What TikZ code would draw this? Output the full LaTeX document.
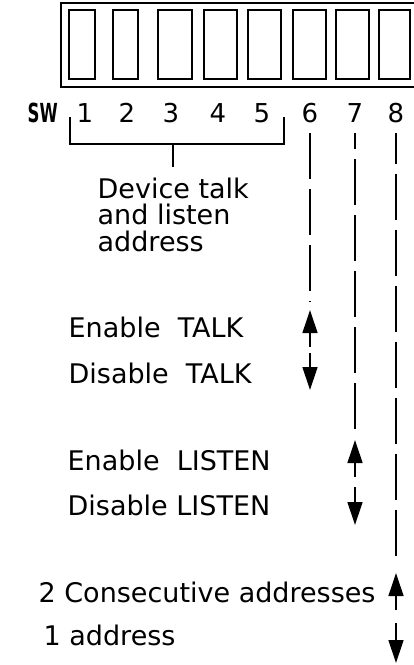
\documentclass[tikz,border=0pt]{standalone}
\usepackage{fontspec}
\setmainfont{DejaVu Sans}
\usetikzlibrary{arrows.meta}

\begin{document}
\begin{tikzpicture}[x=1pt,y=-1pt,line width=1.3pt,
  lbl/.style={anchor=base west,inner sep=0pt,font=\fontsize{27}{26.5}\selectfont},
  num/.style={anchor=base,inner sep=0pt,font=\fontsize{26}{26.5}\selectfont},
  sel/.style={-{Triangle[length=23pt,width=15pt]}},
  swline/.style={dash pattern=on 46pt off 10pt}]
\useasboundingbox (0,0) rectangle (414,665);
% switch block
\draw[line width=1.6pt] (414,3) -- (61,3) -- (61,87) -- (414,87);
\foreach \a/\b in {69/95,113/138,158/192,204/237,248/281,293/326,336/369,379/410}
  \draw (\a,10) rectangle (\b,79);
% switch numbers
\node[lbl,font=\bfseries\fontsize{25}{26}\selectfont] (sw) at (27,122) {\scalebox{0.66}[1.05]{SW}};
\foreach \x/\n in {85/1,127/2,171/3,218/4,262/5,310/6,355/7,396/8}
  \node[num] (n\n) at (\x,122) {\n};
% address bracket
\draw (70,117) -- (70,144) -- (284,144) -- (284,117);
\coordinate (br) at (173,144);
\node[lbl,anchor=north west,align=left] (dev) at (97,177) {Device talk\\and listen\\address};
\draw (br) -- ([yshift=10pt]dev.north -| br);
% labels
\node[lbl] (ent) at (68,337) {Enable \ TALK};
\node[lbl] (dit) at (68,383) {Disable \ TALK};
\node[lbl] (enl) at (67,470) {Enable \ LISTEN};
\node[lbl] (dil) at (67,515) {Disable LISTEN};
\node[lbl] (two) at (38,602) {2 Consecutive addresses};
\node[lbl] (one) at (43,645) {1 address};
% switch 6
\coordinate (u6) at (310,310);
\coordinate (d6) at (310,390);
\draw[swline] ([yshift=-11pt]n6.base) -- ([yshift=8pt]u6);
\draw[sel] (310,347) -- (u6);
\draw[sel] (310,353) -- (d6);
% switch 7
\coordinate (u7) at (355,440);
\coordinate (d7) at (355,525);
\draw[swline,dash phase=30pt] ([yshift=-11pt]n7.base) -- ([yshift=10pt]u7);
\draw[sel] (355,477) -- (u7);
\draw[sel] (355,487) -- (d7);
% switch 8
\coordinate (u8) at (396,573);
\coordinate (d8) at (396,663);
\draw[swline,dash phase=15pt] ([yshift=-11pt]n8.base) -- ([yshift=11pt]u8);
\draw[sel] (396,610) -- (u8);
\draw[sel] (396,623) -- (d8);
\end{tikzpicture}
\end{document}
